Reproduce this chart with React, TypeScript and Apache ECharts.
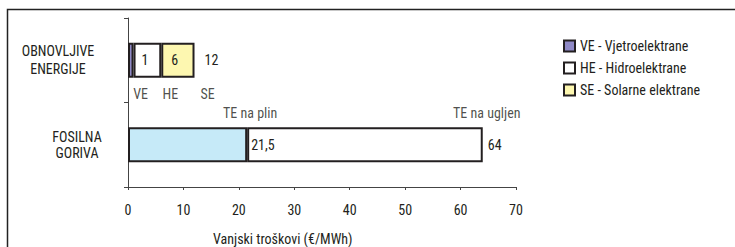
import React, { useEffect, useRef } from "react";
import * as echarts from "echarts";

const categories = ["OBNOVLJIVE\nENERGIJE", "FOSILNA\nGORIVA"];
const renewableNames = ["VE - Vjetroelektrane", "HE - Hidroelektrane", "SE - Solarne elektrane"];
const renewableShort = ["VE", "HE", "SE"];
const renewableCumulative = [1, 6, 12];
const renewableColors = ["#8f89c6", "#ffffff", "#fdf7b0"];
const fossilNames = ["TE na plin", "TE na ugljen"];
const fossilCumulative = [21.5, 64];
const fossilColors = ["#c6eaf8", "#ffffff"];
const xTicks = [0, 10, 20, 30, 40, 50, 60, 70];
const axisTitle = "Vanjski troškovi (€/MWh)";

const FONT = "'Roboto Condensed', 'DejaVu Sans Condensed', sans-serif";
const INK = "#231f20";
const FS = 14;

const fmt = (v: number) => String(v).replace(".", ",");

export default function App() {
  const ref = useRef<HTMLDivElement>(null);
  useEffect(() => {
    if (!ref.current) return;
    const chart = echarts.init(ref.current, null, { renderer: "svg" });

    const series: any[] = [];
    const labelDist = [8, 10, 10];
    renewableNames.forEach((name, i) => {
      const prev = i === 0 ? 0 : renewableCumulative[i - 1];
      series.push({
        type: "bar",
        name,
        stack: "s",
        barWidth: 35,
        data: [renewableCumulative[i] - prev, "-"],
        itemStyle: { color: renewableColors[i], borderColor: INK, borderWidth: 2 },
        label: {
          show: true,
          position: "right",
          distance: labelDist[i],
          formatter: () => fmt(renewableCumulative[i]),
          fontFamily: FONT,
          fontSize: FS,
          color: INK,
        },
      });
    });
    const fossilDist = [4, 5];
    fossilNames.forEach((name, i) => {
      const prev = i === 0 ? 0 : fossilCumulative[i - 1];
      series.push({
        type: "bar",
        name,
        stack: "s",
        barWidth: 35,
        data: ["-", fossilCumulative[i] - prev],
        itemStyle: { color: fossilColors[i], borderColor: INK, borderWidth: 2 },
        label: {
          show: true,
          position: "right",
          distance: fossilDist[i],
          formatter: () => fmt(fossilCumulative[i]),
          fontFamily: FONT,
          fontSize: FS,
          color: INK,
        },
      });
    });

    const shortOffsets = [7, 9, 13];
    series.push({
      type: "scatter",
      name: "short",
      symbolSize: 0,
      silent: true,
      data: renewableCumulative.map((v, i) => ({
        value: [v, categories[0]],
        label: { offset: [shortOffsets[i], 34], formatter: renewableShort[i] },
      })),
      label: { show: true, position: "inside", fontFamily: FONT, fontSize: FS, color: INK },
    });
    const fossilOffsets = [3, 4];
    series.push({
      type: "scatter",
      name: "fossilNames",
      symbolSize: 0,
      silent: true,
      data: fossilCumulative.map((v, i) => ({
        value: [v, categories[1]],
        label: { offset: [fossilOffsets[i], -32], formatter: fossilNames[i] },
      })),
      label: { show: true, position: "inside", fontFamily: FONT, fontSize: FS, color: INK },
    });

    chart.setOption({
      animation: false,
      textStyle: { fontFamily: FONT },
      grid: { left: 128, right: 219, top: 18, bottom: 60, containLabel: false },
      legend: {
        data: renewableNames,
        orient: "vertical",
        left: 558,
        top: 34,
        itemWidth: 11,
        itemHeight: 11,
        itemGap: 8,
        icon: "rect",
        textStyle: { fontFamily: FONT, fontSize: FS, color: INK },
      },
      xAxis: {
        type: "value",
        min: xTicks[0],
        max: xTicks[xTicks.length - 1],
        interval: 10,
        splitLine: { show: false },
        axisLine: { show: true, lineStyle: { color: "#444", width: 1 } },
        axisTick: { show: true, length: 3, lineStyle: { color: "#444" } },
        axisLabel: { fontFamily: FONT, fontSize: FS, color: INK, margin: 16 },
      },
      yAxis: {
        type: "category",
        data: categories,
        inverse: true,
        axisLine: { show: true, lineStyle: { color: "#444", width: 1 } },
        axisTick: { show: true, length: 4, lineStyle: { color: "#444" } },
        axisLabel: {
          margin: 51,
          align: "center",
          formatter: (v: string, idx: number) => {
            const lines = v.split("\n");
            const key = idx === 0 ? "a" : "b";
            return lines.map((l) => `{${key}|${l}}`).join("\n");
          },
          rich: {
            a: { fontFamily: FONT, fontSize: FS, color: INK, padding: [0, 38, 0, 0], lineHeight: 18 },
            b: { fontFamily: FONT, fontSize: FS, color: INK, lineHeight: 16 },
          },
        },
      },
      graphic: [
        {
          type: "rect",
          shape: { x: 7.5, y: 9.5, width: 800, height: 300 },
          style: { fill: "none", stroke: "#222", lineWidth: 1.5 },
          silent: true,
        },
        {
          type: "text",
          left: 213,
          top: 232,
          style: { text: axisTitle, fontFamily: FONT, fontSize: FS, fill: INK },
          silent: true,
        },
      ],
      series,
    });
    return () => chart.dispose();
  }, []);
  return <div ref={ref} style={{ width: 735, height: 247, position: "absolute", left: 0, top: 0, background: "#fff" }} />;
}
